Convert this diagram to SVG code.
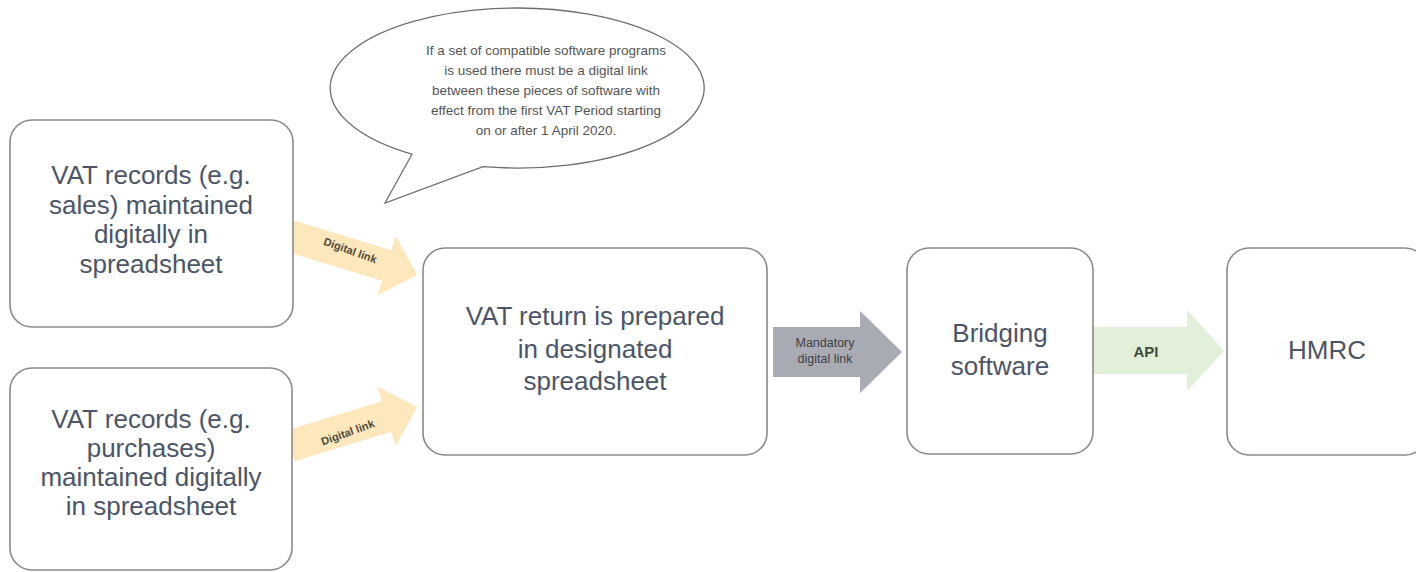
<svg xmlns="http://www.w3.org/2000/svg" width="1416" height="572" viewBox="0 0 1416 572">
<style>
.box{fill:#ffffff;stroke:#8a8a8a;stroke-width:1.6}
.bt{font-family:"Liberation Sans",Arial,sans-serif;font-size:26px;fill:#4b5567;text-anchor:middle}
.bub{fill:#ffffff;stroke:#6e6e6e;stroke-width:1.3}
.bubt{font-family:"Liberation Sans",Arial,sans-serif;font-size:13.5px;fill:#555555;text-anchor:middle}
.yel{fill:#fde8bd}
.gry{fill:#a9abb4}
.grn{fill:#e2f0d9}
.dl{font-family:"Liberation Sans",Arial,sans-serif;font-size:11px;font-weight:bold;fill:#4e4a3c;text-anchor:middle}
.md{font-family:"Liberation Sans",Arial,sans-serif;font-size:12.5px;fill:#3f3f45;text-anchor:middle}
.api{font-family:"Liberation Sans",Arial,sans-serif;font-size:15px;font-weight:bold;fill:#3e4a3e;text-anchor:middle}
</style>
<rect width="1416" height="572" fill="#ffffff"/>
<g id="connectors">
  <g id="link-sales">
    <polygon class="yel" transform="translate(290,236) rotate(17)" points="0,-16 101,-16 101,-31 133,0 101,31 101,16 0,16"/>
    <text class="dl" transform="translate(349,254) rotate(20)">Digital link</text>
  </g>
  <g id="link-purchases">
    <polygon class="yel" transform="translate(290,446) rotate(-17)" points="0,-16 101,-16 101,-31 133,0 101,31 101,16 0,16"/>
    <text class="dl" transform="translate(349,436) rotate(-20)">Digital link</text>
  </g>
  <g id="link-mandatory">
    <polygon class="gry" points="773,327 860,327 860,311 902,352 860,393 860,377 773,377"/>
    <text class="md" x="825" y="347">Mandatory</text>
    <text class="md" x="825" y="363">digital link</text>
  </g>
  <g id="link-api">
    <polygon class="grn" points="1092,327 1187,327 1187,310 1224,351 1187,391 1187,374 1092,374"/>
    <text class="api" x="1146" y="357">API</text>
  </g>
</g>
<g id="callout">
  <path class="bub" d="M 412 154.2 A 187 80 0 1 1 483 166.7 L 385 203 Z"/>
  <text class="bubt" x="546" y="55">If a set of compatible software programs</text>
  <text class="bubt" x="546" y="75">is used there must be a digital link</text>
  <text class="bubt" x="546" y="95">between these pieces of software with</text>
  <text class="bubt" x="546" y="115">effect from the first VAT Period starting</text>
  <text class="bubt" x="546" y="135">on or after 1 April 2020.</text>
</g>
<g id="node-sales">
  <rect class="box" x="10" y="120" width="283" height="207" rx="22"/>
  <text class="bt" x="151" y="184">VAT records (e.g.</text>
  <text class="bt" x="151" y="214">sales) maintained</text>
  <text class="bt" x="151" y="243">digitally in</text>
  <text class="bt" x="151" y="273">spreadsheet</text>
</g>
<g id="node-purchases">
  <rect class="box" x="10" y="368" width="282" height="202" rx="22"/>
  <text class="bt" x="151" y="428">VAT records (e.g.</text>
  <text class="bt" x="151" y="457">purchases)</text>
  <text class="bt" x="151" y="486">maintained digitally</text>
  <text class="bt" x="151" y="515">in spreadsheet</text>
</g>
<g id="node-vat-return">
  <rect class="box" x="423" y="248" width="344" height="207" rx="22"/>
  <text class="bt" x="595" y="325">VAT return is prepared</text>
  <text class="bt" x="595" y="358">in designated</text>
  <text class="bt" x="595" y="390">spreadsheet</text>
</g>
<g id="node-bridging">
  <rect class="box" x="907" y="248" width="186" height="206" rx="22"/>
  <text class="bt" x="1000" y="342">Bridging</text>
  <text class="bt" x="1000" y="375">software</text>
</g>
<g id="node-hmrc">
  <rect class="box" x="1227" y="248" width="200" height="207" rx="22"/>
  <text class="bt" x="1327" y="359">HMRC</text>
</g>
</svg>
